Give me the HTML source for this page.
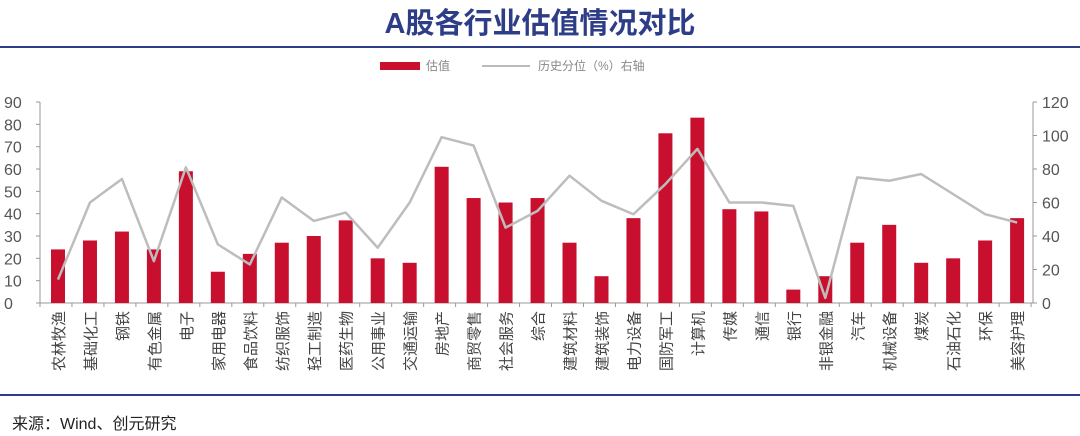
<!DOCTYPE html>
<html><head><meta charset="utf-8"><style>
html,body{margin:0;padding:0;background:#fff;width:1080px;height:436px;overflow:hidden}
svg text{font-family:"Liberation Sans","Noto Sans CJK SC",sans-serif}
</style></head><body>
<svg id="s" width="1080" height="436" xmlns="http://www.w3.org/2000/svg">
<text x="540" y="33" text-anchor="middle" font-size="29" font-weight="bold" fill="#2e3d87" style="font-family:'Liberation Sans','Noto Sans CJK SC',sans-serif">A股各行业估值情况对比</text>
<line x1="0" y1="47" x2="1080" y2="47" stroke="#2e3d87" stroke-width="2"/>
<rect x="380" y="62" width="40" height="8" fill="#c8102e"/>
<text x="426" y="70" font-size="12" fill="#888">估值</text>
<line x1="482" y1="66" x2="530" y2="66" stroke="#bbb" stroke-width="2"/>
<text x="538" y="70" font-size="12" fill="#888">历史分位（%）右轴</text>
<line x1="0" y1="395" x2="1080" y2="395" stroke="#2e3d87" stroke-width="2"/>
<text x="12" y="429" font-size="16" fill="#222">来源：Wind、创元研究</text>
<g id="g"></g>
</svg>
<script>
var names=["农林牧渔","基础化工","钢铁","有色金属","电子","家用电器","食品饮料","纺织服饰","轻工制造","医药生物","公用事业","交通运输","房地产","商贸零售","社会服务","综合","建筑材料","建筑装饰","电力设备","国防军工","计算机","传媒","通信","银行","非银金融","汽车","机械设备","煤炭","石油石化","环保","美容护理"];
var v=[24,28,32,24,59,14,22,27,30,37,20,18,61,47,45,47,27,12,38,76,83,42,41,6,12,27,35,18,20,28,38];
var p=[14,60,74,25,81,35,23,63,49,54,33,60,99,94,45,55,76,61,53,71,92,60,60,58,3,75,73,77,65,53,48];
var y0=303,L=40,R=1033,s='';
function X(i){return 58+i*31.97}
s+='<line x1="'+L+'" y1="102" x2="'+L+'" y2="'+y0+'" stroke="#999"/>';
s+='<line x1="'+R+'" y1="102" x2="'+R+'" y2="'+y0+'" stroke="#999"/>';
s+='<line x1="'+L+'" y1="'+y0+'" x2="'+R+'" y2="'+y0+'" stroke="#999"/>';
for(var k=0;k<=9;k++){var y=y0-k*22.33;s+='<line x1="'+(L-4)+'" y1="'+y+'" x2="'+L+'" y2="'+y+'" stroke="#999"/><text x="4" y="'+(y+6)+'" font-size="16" fill="#555">'+(k*10)+'</text>';}
for(var k=0;k<=6;k++){var y=y0-k*33.5;s+='<line x1="'+R+'" y1="'+y+'" x2="'+(R+4)+'" y2="'+y+'" stroke="#999"/><text x="1042" y="'+(y+6)+'" font-size="16" fill="#555">'+(k*20)+'</text>';}
for(var i=0;i<=31;i++){var x=L+i*31.97;s+='<line x1="'+x+'" y1="'+y0+'" x2="'+x+'" y2="'+(y0+4)+'" stroke="#999"/>';}
for(var i=0;i<31;i++){var h=v[i]*2.233;s+='<rect x="'+(X(i)-7)+'" y="'+(y0-h)+'" width="14" height="'+h+'" fill="#c8102e"/>';
s+='<text transform="translate('+(X(i)+6)+',311) rotate(-90)" text-anchor="end" font-size="15" fill="#444">'+names[i]+'</text>';}
var pts=p.map(function(q,i){return X(i)+','+(y0-q*1.675)}).join(' ');
s+='<polyline points="'+pts+'" fill="none" stroke="#bdbdbd" stroke-width="2.5" stroke-linejoin="round"/>';
document.getElementById('g').innerHTML=s;
</script>
</body></html>
